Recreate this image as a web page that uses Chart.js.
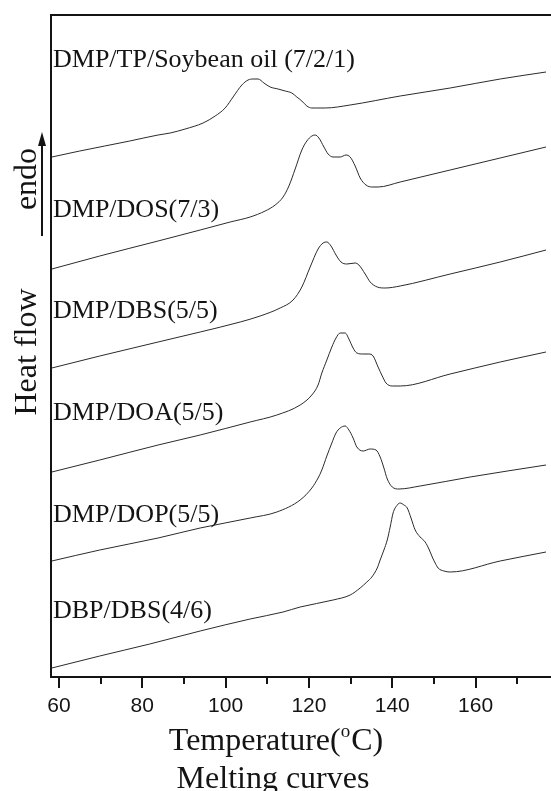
<!DOCTYPE html>
<html>
<head>
<meta charset="utf-8">
<script src="https://cdn.jsdelivr.net/npm/chart.js@4.4.1/dist/chart.umd.min.js"></script>
<style>
  html, body { margin: 0; padding: 0; background: #fff; }
  #wrap { width: 551px; height: 791px; }
</style>
</head>
<body>
<div id="wrap"><canvas id="dsc" width="551" height="791"></canvas></div>
<script>
// Melting curves (DSC), heat flow in arbitrary units, curves stacked
const seriesNames = [
  'DMP/TP/Soybean oil (7/2/1)',
  'DMP/DOS(7/3)',
  'DMP/DBS(5/5)',
  'DMP/DOA(5/5)',
  'DMP/DOP(5/5)',
  'DBP/DBS(4/6)'
];

const tempSoy = [58.3, 65.0, 71.0, 77.0, 83.8, 86.7, 90.3, 94.6, 97.5, 99.9, 101.8, 103.9, 105.4, 106.6, 107.8, 109.2, 110.7, 112.6, 114.3, 115.9, 117.1, 118.3, 119.5, 120.7, 121.9, 123.9, 129.9, 141.9, 153.9, 165.9, 176.9];
const flowSoy = [520, 526, 531, 536, 542, 544, 548, 554, 561, 569, 580, 592, 597, 598, 598, 594, 590, 588, 586, 584, 580, 576, 571, 569, 569, 569, 572, 581, 589, 598, 605];

const tempDOS = [58.3, 69.8, 83.8, 93.9, 101.1, 105.9, 109.5, 111.9, 113.8, 115.2, 116.7, 118.3, 119.5, 120.7, 121.5, 122.4, 123.6, 124.6, 125.8, 127.5, 128.9, 129.9, 131.1, 132.3, 133.7, 135.1, 136.6, 141.9, 153.9, 165.9, 176.9];
const flowDOS = [408, 421, 436, 447, 455, 460, 466, 472, 480, 491, 508, 527, 536, 541, 542, 539, 530, 523, 520, 520, 522, 520, 511, 499, 492, 490, 490, 495, 507, 519, 530];

const tempDBS = [58.3, 69.8, 83.8, 93.9, 103.5, 108.3, 113.1, 116.2, 118.3, 120.3, 122.2, 123.4, 124.3, 125.3, 126.5, 127.7, 129.1, 131.1, 132.0, 133.5, 134.7, 136.4, 138.3, 141.9, 153.9, 165.9, 176.9];
const flowDBS = [309, 321, 335, 345, 355, 361, 369, 377, 390, 410, 428, 434, 435, 431, 422, 415, 413, 414, 412, 403, 395, 390, 389, 391, 403, 415, 427];

const tempDOA = [58.3, 69.8, 83.8, 93.9, 105.9, 112.3, 117.9, 120.7, 122.2, 123.1, 124.3, 125.5, 126.5, 127.5, 128.7, 129.6, 130.6, 131.5, 133.0, 134.4, 135.4, 136.6, 137.6, 138.5, 140.0, 141.9, 153.9, 165.9, 176.9];
const flowDOA = [205, 217, 232, 242, 255, 262, 272, 282, 292, 304, 317, 330, 339, 344, 344, 338, 329, 324, 323, 323, 321, 310, 301, 294, 291, 291, 303, 315, 325];

const tempDOP = [58.3, 69.8, 83.8, 93.9, 105.9, 112.3, 117.9, 120.7, 122.2, 123.1, 124.3, 125.5, 126.5, 127.5, 128.7, 129.6, 130.6, 131.5, 133.0, 134.7, 136.1, 137.1, 138.0, 138.8, 140.0, 141.6, 146.7, 158.7, 176.9];
const flowDOP = [116, 127, 139, 149, 159, 165, 177, 189, 199, 207, 221, 234, 244, 249, 251, 247, 239, 230, 226, 228, 227, 220, 209, 198, 190, 188, 191, 200, 212];

const tempDBP = [58.3, 69.8, 81.8, 93.9, 105.9, 113.8, 117.9, 125.8, 129.9, 132.3, 133.9, 135.1, 136.4, 137.1, 138.0, 138.8, 139.5, 140.2, 141.2, 141.9, 142.8, 143.6, 144.5, 145.5, 146.7, 147.9, 148.8, 149.6, 150.3, 151.0, 152.4, 153.9, 165.9, 176.9];
const flowDBP = [9, 21, 33, 46, 58, 65, 70, 77, 82, 89, 95, 100, 109, 117, 127, 137, 150, 164, 172, 174, 172, 169, 159, 147, 140, 135, 128, 120, 114, 109, 106, 105, 116, 125];

const xTicks = [60, 80, 100, 120, 140, 160];
const xMinorTicks = [70, 90, 110, 130, 150, 170];

const curves = [
  [tempSoy, flowSoy],
  [tempDOS, flowDOS],
  [tempDBS, flowDBS],
  [tempDOA, flowDOA],
  [tempDOP, flowDOP],
  [tempDBP, flowDBP]
];

// layout / style
const SERIF = '"Liberation Serif", "Times New Roman", serif';
const SANS = '"Liberation Sans", Arial, sans-serif';
const INK = '#141414';
const labelBaselines = [67, 217, 318, 420, 522, 618]; // px, label text baselines

const dscDecor = {
  id: 'dscDecor',
  afterDraw(chart) {
    const { ctx, chartArea } = chart;
    const xs = chart.scales.x;
    ctx.save();

    // frame: top, left, bottom
    ctx.strokeStyle = INK;
    ctx.lineWidth = 2;
    ctx.beginPath();
    ctx.moveTo(chartArea.right, chartArea.top);
    ctx.lineTo(chartArea.left, chartArea.top);
    ctx.lineTo(chartArea.left, chartArea.bottom);
    ctx.lineTo(chartArea.right, chartArea.bottom);
    ctx.stroke();

    // tick marks, pointing out
    ctx.beginPath();
    xTicks.forEach(v => {
      const px = Math.round(xs.getPixelForValue(v));
      ctx.moveTo(px, chartArea.bottom);
      ctx.lineTo(px, chartArea.bottom + 11);
    });
    xMinorTicks.forEach(v => {
      const px = Math.round(xs.getPixelForValue(v));
      ctx.moveTo(px, chartArea.bottom);
      ctx.lineTo(px, chartArea.bottom + 7);
    });
    ctx.stroke();

    // curve labels
    ctx.fillStyle = INK;
    ctx.font = '26px ' + SERIF;
    ctx.textAlign = 'left';
    ctx.textBaseline = 'alphabetic';
    seriesNames.forEach((name, i) => {
      ctx.fillText(name, chartArea.left + 2, labelBaselines[i]);
    });

    // x title with superscript o
    const big = '32px ' + SERIF, small = '19px ' + SERIF;
    ctx.font = big;
    const w1 = ctx.measureText('Temperature(').width;
    const w3 = ctx.measureText('C)').width;
    ctx.font = small;
    const w2 = ctx.measureText('o').width + 1;
    let tx = 276 - (w1 + w2 + w3) / 2;
    ctx.font = big;
    ctx.fillText('Temperature(', tx, 750);
    ctx.font = small;
    ctx.fillText('o', tx + w1, 737);
    ctx.font = big;
    ctx.fillText('C)', tx + w1 + w2, 750);

    ctx.textAlign = 'center';
    ctx.fillText('Melting curves', 273, 788);

    // y title, rotated
    ctx.save();
    ctx.translate(36, 352);
    ctx.rotate(-Math.PI / 2);
    ctx.fillText('Heat flow', 0, 0);
    ctx.restore();
    ctx.save();
    ctx.translate(36, 179);
    ctx.rotate(-Math.PI / 2);
    ctx.fillText('endo', 0, 0);
    ctx.restore();

    // endo arrow
    ctx.lineWidth = 2;
    ctx.beginPath();
    ctx.moveTo(42, 236);
    ctx.lineTo(42, 144);
    ctx.stroke();
    ctx.beginPath();
    ctx.moveTo(42, 132);
    ctx.lineTo(38, 146);
    ctx.lineTo(46, 146);
    ctx.closePath();
    ctx.fill();

    ctx.restore();
  }
};

new Chart(document.getElementById('dsc'), {
  type: 'line',
  data: {
    datasets: curves.map((c, i) => ({
      label: seriesNames[i],
      data: c[0].map((t, k) => ({ x: t, y: c[1][k] })),
      borderColor: '#2b2b2b',
      borderWidth: 1,
      pointRadius: 0,
      cubicInterpolationMode: 'monotone',
      fill: false
    }))
  },
  options: {
    responsive: false,
    animation: false,
    devicePixelRatio: 1,
    layout: { padding: { left: 51, top: 15, right: 0, bottom: 0 } },
    scales: {
      x: {
        type: 'linear',
        position: 'bottom',
        min: 58.1,
        max: 178.1,
        grid: { display: false },
        border: { display: false },
        afterBuildTicks: scale => { scale.ticks = xTicks.map(v => ({ value: v })); },
        afterFit: scale => { scale.height = 114; },
        ticks: {
          autoSkip: false,
          maxRotation: 0,
          padding: 9,
          color: INK,
          font: { family: SANS, size: 21 }
        }
      },
      y: {
        type: 'linear',
        display: false,
        min: 0,
        max: 662
      }
    },
    plugins: {
      legend: { display: false },
      tooltip: { enabled: false }
    }
  },
  plugins: [dscDecor]
});
</script>
</body>
</html>
